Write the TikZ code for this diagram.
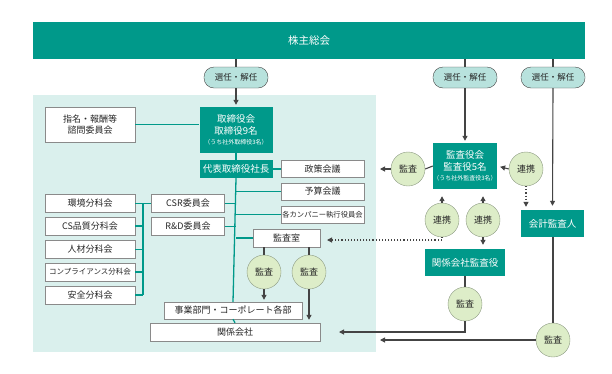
\documentclass[tikz,border=0pt]{standalone}
\usepackage{fontspec}
\setmainfont{Noto Sans CJK JP}
\usetikzlibrary{arrows.meta}

\definecolor{teal1}{HTML}{00998A}
\definecolor{bgteal}{HTML}{DAF0ED}
\definecolor{pillfill}{HTML}{B8E2DD}
\definecolor{circfill}{HTML}{DDEDC8}
\definecolor{circline}{HTML}{8C9A82}
\definecolor{darkline}{HTML}{444444}
\definecolor{boxline}{HTML}{8A8A8A}
\newcommand{\jfs}[2]{\fontsize{#1}{#2}\selectfont}

\begin{document}
\begin{tikzpicture}[x=1pt, y=-1pt, >={Triangle[length=5pt,width=5pt]}]
  \tikzstyle{tbox}=[fill=teal1, text=white, inner sep=0pt, align=center, font=\jfs{9.5}{12.5}]
  \tikzstyle{wbox}=[draw=boxline, fill=white, text=black!85, inner sep=0pt, align=center, font=\jfs{9}{11.5}]
  \tikzstyle{pill}=[draw=darkline, fill=pillfill, rounded corners=10pt, minimum width=64pt, minimum height=21pt, inner sep=0pt, text=black!85, font=\jfs{8.5}{10}]
  \tikzstyle{kansa}=[circle, draw=circline, fill=circfill, minimum size=34pt, inner sep=0pt, text=black!85, font=\jfs{9}{10}]
  \tikzstyle{org}=[teal1, line width=1.3pt]
  \tikzstyle{arr}=[darkline, line width=1.1pt]

  \useasboundingbox (0,0) rectangle (612,373);
  \fill[bgteal] (33,95) rectangle (376,352);

  % top
  \node[tbox, minimum width=552pt, minimum height=37pt, font=\jfs{10.5}{12}] (ag) at (309,40.5) {株主総会};
  \node[pill] (p1) at (236,77.5) {選任・解任};
  \node[pill] (p2) at (465,77.5) {選任・解任};
  \node[pill] (p3) at (553,77.5) {選任・解任};

  % board side
  \node[tbox, minimum width=73pt, minimum height=46pt] (tori) at (236,130)
    {取締役会\\取締役9名\\[-2.5pt]{\jfs{6}{7}（うち社外取締役3名）}};
  \node[tbox, minimum width=73pt, minimum height=18pt] (daihyo) at (236,169) {代表取締役社長};
  \node[wbox, minimum width=90pt, minimum height=35pt] (shimei) at (90,124.5) {指名・報酬等\\諮問委員会};
  \node[wbox, minimum width=83pt, minimum height=17pt] (seisaku) at (322.5,169) {政策会議};
  \node[wbox, minimum width=83pt, minimum height=17pt] (yosan) at (322.5,191.5) {予算会議};
  \node[wbox, minimum width=83pt, minimum height=17pt, font=\jfs{7.3}{9}] (kaku) at (322.5,214.5) {各カンパニー執行役員会};
  \node[wbox, minimum width=73pt, minimum height=18pt] (csr) at (188,203.5) {CSR委員会};
  \node[wbox, minimum width=73pt, minimum height=18pt] (rd) at (188,226.5) {R\&D委員会};
  \node[wbox, minimum width=90pt, minimum height=18pt] (kankyo) at (90,203.5) {環境分科会};
  \node[wbox, minimum width=90pt, minimum height=18pt] (cs) at (90,226) {CS品質分科会};
  \node[wbox, minimum width=90pt, minimum height=18pt] (jinzai) at (90,249.5) {人材分科会};
  \node[wbox, minimum width=90pt, minimum height=18pt, font=\jfs{7.5}{9}] (comp) at (90,272) {コンプライアンス分科会};
  \node[wbox, minimum width=90pt, minimum height=18pt] (anzen) at (90,295) {安全分科会};
  \node[wbox, minimum width=67pt, minimum height=18pt] (shitsu) at (286.5,238) {監査室};
  \node[kansa] (k1) at (264,272) {監査};
  \node[kansa] (k2) at (309,272) {監査};
  \node[wbox, minimum width=138pt, minimum height=17pt] (jigyo) at (233,310.5) {事業部門・コーポレート各部};
  \node[wbox, minimum width=170pt, minimum height=18pt] (kanren) at (235,332) {関係会社};

  % auditor side
  \node[tbox, minimum width=64pt, minimum height=46pt] (kyaku) at (465,166)
    {監査役会\\監査役5名\\[-2.5pt]{\jfs{6}{7}（うち社外監査役3名）}};
  \node[kansa] (k3) at (408,169) {監査};
  \node[kansa] (ren0) at (526,169) {連携};
  \node[kansa] (ren1) at (442,220) {連携};
  \node[kansa] (ren2) at (483,220) {連携};
  \node[tbox, minimum width=63pt, minimum height=27pt] (kaikei) at (552.5,223.5) {会計監査人};
  \node[tbox, minimum width=80pt, minimum height=27pt] (kgk) at (465,262.5) {関係会社監査役};
  \node[kansa] (k4) at (465,304) {監査};
  \node[kansa] (k5) at (553,340) {監査};

  \coordinate (bus) at (143,203.5);
  \coordinate (k3end) at (380,169);
  \coordinate (k4end) at (339,332);
  \coordinate (k5end) at (380,340);
  \coordinate (dotend) at (327,240);

  % organisation lines
  \draw[org] (shimei.east) -- (shimei.east -| tori.west);
  \draw[org] (tori.south) -- (daihyo.north);
  \draw[org] (daihyo.south) -- (jigyo.north);
  \draw[org] (jigyo.south) -- (kanren.north);
  \draw[org] (daihyo.east) -- (seisaku.west);
  \foreach \n in {yosan,kaku,shitsu}
    \draw[org] (\n.west) -- (\n.west -| daihyo.south);
  \foreach \n in {csr,rd}
    \draw[org] (\n.east) -- (\n.east -| daihyo.south);
  \draw[org] (kankyo.east) -- (csr.west);
  \draw[org] (bus) -- (bus |- anzen.east);
  \foreach \n in {cs,jinzai,comp,anzen}
    \draw[org] (\n.east) -- (\n.east -| bus);

  % election
  \draw[arr] (ag.south -| p1) -- (p1.north);
  \draw[arr, ->, shorten >=2pt] (p1.south) -- (tori.north);
  \draw[arr] (ag.south -| p2) -- (p2.north);
  \draw[arr, ->, shorten >=2pt] (p2.south) -- (kyaku.north);
  \draw[arr] (ag.south -| p3) -- (p3.north);
  \draw[arr, ->, shorten >=4pt] (p3.south) -- (kaikei.north);

  % audit
  \draw[arr] (shitsu.south -| k1) -- (k1.north);
  \draw[arr, ->, shorten >=2pt] (k1.south) -- (k1 |- jigyo.north);
  \draw[arr] (shitsu.south -| k2) -- (k2.north);
  \draw[arr, ->, shorten >=3pt] (k2.south) -- (k2 |- kanren.north);
  \draw[arr] (kyaku.west) -- (k3.east);
  \draw[arr, ->] (k3.west) -- (k3end);
  \draw[arr, ->, shorten >=3pt] (ren0.west) -- (kyaku.east);
  \draw[arr, ->, shorten >=7pt] (ren1.north) -- (ren1 |- kyaku.south);
  \draw[arr, ->, shorten >=7pt] (ren2.north) -- (ren2 |- kyaku.south);
  \draw[arr, dotted, ->, shorten >=3pt] (ren0.south) -- (ren0 |- kaikei.north);
  \draw[arr, dotted, ->] (ren1.south) |- (dotend);
  \draw[arr, ->, shorten >=4pt] (ren2.south) -- (ren2 |- kgk.north);
  \draw[arr] (kgk.south) -- (k4.north);
  \draw[arr, ->] (k4.south) |- (k4end);
  \draw[arr] (kaikei.south -| k5) -- (k5.north);
  \draw[arr, ->] (k5.west) -- (k5end);
\end{tikzpicture}
\end{document}
